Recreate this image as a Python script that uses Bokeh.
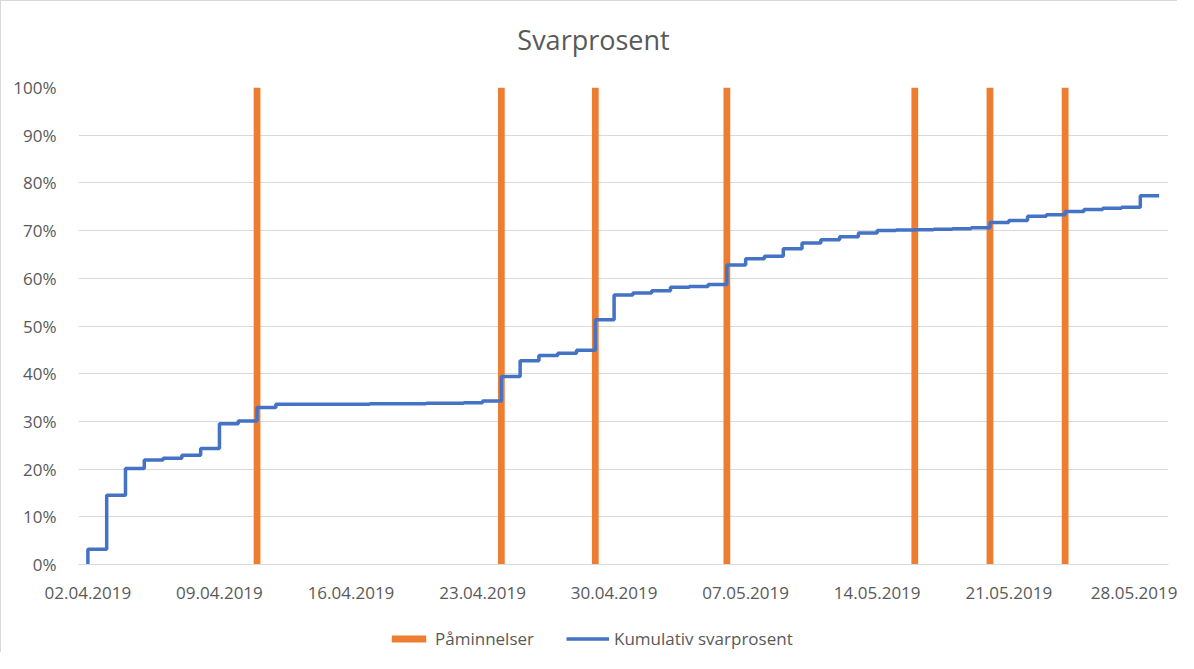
import pandas as pd
from bokeh.plotting import figure
from bokeh.layouts import column
from bokeh.models import (FixedTicker, DatetimeTickFormatter, NumeralTickFormatter,
                          Range1d, Legend, LegendItem, Label)
from bokeh.embed import file_html
from bokeh.resources import INLINE

# ---- data ----
start_date = "2019-04-02"
end_date = "2019-05-29"
tick_dates = ["2019-04-02", "2019-04-09", "2019-04-16", "2019-04-23", "2019-04-30",
              "2019-05-07", "2019-05-14", "2019-05-21", "2019-05-28"]
paminnelser_dates = ["2019-04-11", "2019-04-24", "2019-04-29", "2019-05-06",
                     "2019-05-16", "2019-05-20", "2019-05-24"]
paminnelser_values = [1, 1, 1, 1, 1, 1, 1]
# cumulative response rate (%) per day, 02.04.2019 .. 29.05.2019
kumulativ_pct = [3.2, 14.5, 20.1, 21.9, 22.3, 22.9, 24.3, 29.5, 30.1, 32.9,
                 33.6, 33.6, 33.6, 33.6, 33.6, 33.7, 33.7, 33.7, 33.8, 33.8,
                 33.9, 34.3, 39.4, 42.7, 43.8, 44.3, 44.9, 51.3, 56.5, 56.9,
                 57.4, 58.1, 58.3, 58.7, 62.8, 64.1, 64.6, 66.2, 67.4, 68.1,
                 68.7, 69.5, 70.0, 70.1, 70.2, 70.3, 70.4, 70.6, 71.7, 72.1,
                 73.0, 73.3, 74.0, 74.4, 74.7, 74.9, 77.3, 77.3]

DAY = 86400000.0
t0 = pd.Timestamp(start_date)
day_dates = list(pd.date_range(start_date, end_date, freq="D"))
line_x = [t0] + day_dates
line_y = [0.0] + [v / 100.0 for v in kumulativ_pct]

ORANGE = "#ED7D31"
BLUE = "#4472C4"
TXT = "#595959"
GRID = "#D9D9D9"
FONT = "Open Sans"
W = 1177

# ---- title strip (frame is aligned with the main chart's frame) ----
p0 = figure(width=W, height=60, x_range=Range1d(0, 1090), y_range=Range1d(0, 60),
            output_backend="svg", toolbar_location=None,
            x_axis_location=None, y_axis_location=None,
            min_border_left=0, min_border_right=0, min_border_top=0, min_border_bottom=0)
p0.styles = {"border-top": "1px solid #D9D9D9", "border-left": "1px solid #D9D9D9"}
p0.grid.visible = False
p0.outline_line_color = None
p0.border_fill_color = "white"
p0.add_layout(Label(x=515, y=22, text="Svarprosent", text_font=FONT,
                    text_font_size="27px", text_color=TXT,
                    text_align="center", text_baseline="middle"))

# ---- main chart ----
x_start = t0 - pd.Timedelta(hours=12)
x_end = pd.Timestamp(end_date) + pd.Timedelta(hours=12)

p = figure(width=W, height=544, x_axis_type="datetime",
           x_range=Range1d(x_start, x_end), y_range=Range1d(0, 1),
           output_backend="svg", toolbar_location=None,
           min_border_left=77, min_border_right=10, min_border_top=27,
           min_border_bottom=40)
p.styles = {"border-left": "1px solid #D9D9D9"}
p.outline_line_color = None
p.background_fill_color = "white"
p.border_fill_color = "white"

p.xgrid.grid_line_color = None
p.ygrid.grid_line_color = GRID
p.ygrid.grid_line_width = 1

p.xaxis.ticker = FixedTicker(ticks=[pd.Timestamp(d).value / 1e6 for d in tick_dates])
p.xaxis.formatter = DatetimeTickFormatter(days="%d.%m.%Y", months="%d.%m.%Y")
p.yaxis.ticker = FixedTicker(ticks=[i / 10 for i in range(11)])
p.yaxis.formatter = NumeralTickFormatter(format="0%")
for ax in (p.xaxis, p.yaxis):
    ax.major_tick_line_color = None
    ax.minor_tick_line_color = None
    ax.major_label_text_font = FONT
    ax.major_label_text_font_size = "17px"
    ax.major_label_text_color = TXT
p.xaxis.axis_line_color = GRID
p.yaxis.axis_line_color = None
p.xaxis.major_label_standoff = 16
p.yaxis.major_label_standoff = 16

p.vbar(x=[pd.Timestamp(d) for d in paminnelser_dates], top=paminnelser_values,
       bottom=0, width=0.36 * DAY, fill_color=ORANGE, line_color=None)
p.step(x=line_x, y=line_y, mode="after", line_color=BLUE, line_width=3.5)

# ---- legend strip ----
p2 = figure(width=W, height=48, x_range=Range1d(0, 1), y_range=Range1d(0, 1),
            output_backend="svg", toolbar_location=None,
            x_axis_location=None, y_axis_location=None,
            min_border_left=0, min_border_right=0, min_border_top=0, min_border_bottom=0)
p2.styles = {"border-left": "1px solid #D9D9D9"}
p2.grid.visible = False
p2.outline_line_color = None
p2.border_fill_color = "white"
lg_bar = p2.vbar(x=[5], top=[5], bottom=4, width=0.1, fill_color=ORANGE, line_color=None)
lg_line = p2.line(x=[5, 6], y=[5, 5], line_color=BLUE, line_width=3.5)

legend = Legend(items=[LegendItem(label="Påminnelser", renderers=[lg_bar]),
                       LegendItem(label="Kumulativ svarprosent", renderers=[lg_line])],
                orientation="horizontal", location=(309, 2),
                glyph_width=43, glyph_height=9, label_height=20, label_standoff=5,
                spacing=32, padding=0, margin=0, border_line_color=None,
                background_fill_alpha=0, label_text_font=FONT,
                label_text_font_size="17px", label_text_color=TXT)
p2.add_layout(legend)

layout = column(p0, p, p2, spacing=0)
open("out.html", "w").write(file_html(layout, INLINE))
